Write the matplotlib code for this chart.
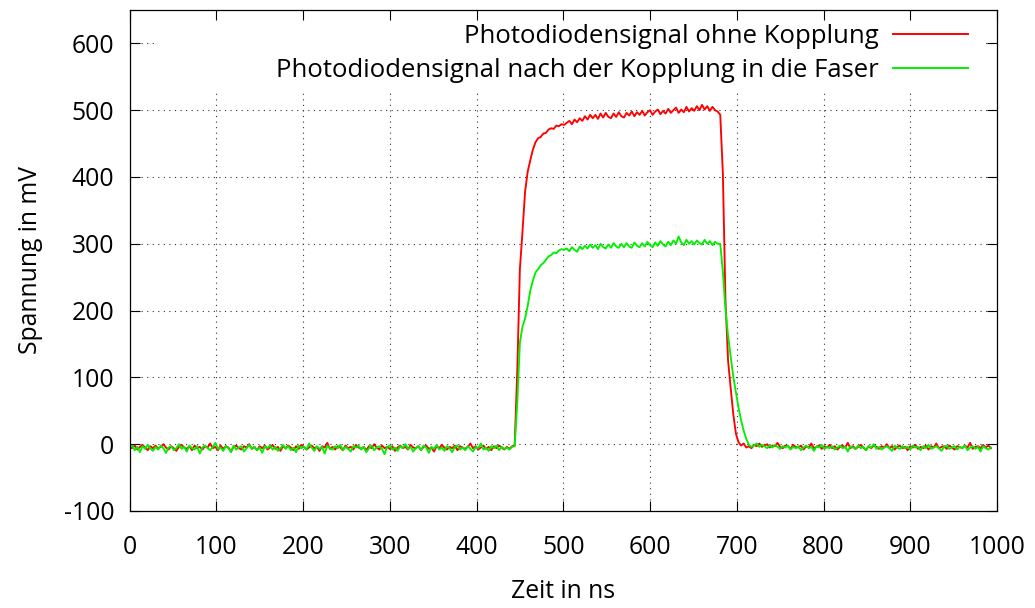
import numpy as np
import matplotlib
matplotlib.use("Agg")
import matplotlib.pyplot as plt
from matplotlib.patches import Rectangle

# ---------------- data (mV), sampled every 3 ns starting at 0 ns ----------------
step_ns = 3

red_pre = [
    -3, -6, -2, -8, -4, -1, -5, -9, -3, -6,
    -2, -7, -4, 0, -5, -8, -3, -6, -10, -4,
    -1, -5, -7, -3, -9, -2, -6, -4, -8, -3,
    -5, 1, -6, -4, -9, -2, -7, -3, -5, -11,
    -4, -2, -6, -8, -3, -5, 0, -7, -4, -9,
    -3, -6, -2, -8, -5, -1, -7, -4, -10, -3,
    -6, -2, -5, -9, -3, -7, -1, -4, -8, -5,
    -2, -6, -4, -10, -3, -5, 2, -7, -4, -8,
    -3, -5, -9, -2, -6, -4, -8, -1, -5, -7,
    -4, -9, -3, -6, 0, -5, -8, -2, -6, -4,
    -7, -3, -10, -5, -2, -6, -4, -8, -1, -5,
    -6, -3, -9, -4, -2, -7, -5, -11, -3, -6,
    -1, -5, -8, -4, -6, -2, -9, -3, -5, -7,
    -4, 1, -6, -3, -8, -5, -2, -7, -4, -9,
    -3, -6, -2, -5, -8, -4, -7, -3,
]
red_rise = [-2, 110, 262, 318, 378, 408, 425, 441, 452, 458,
            460, 465, 466, 471, 473, 472, 477, 476, 479, 478]
red_plateau = [
    481, 484, 479, 486, 482, 488, 484, 491, 486, 493,
    488, 493, 487, 495, 489, 496, 490, 488, 495, 490,
    497, 491, 489, 496, 492, 498, 491, 497, 493, 499,
    492, 497, 500, 493, 498, 501, 494, 499, 495, 502,
    496, 500, 504, 496, 501, 497, 505, 498, 503, 499,
    506, 500, 508, 501, 506, 499, 505, 500, 498,
]
red_fall = [493, 405, 215, 125, 84, 45, 16, 3, -2, 1, -5, -3, -6]
red_post = [
    -1, -3, 1, -4, -2, 0, -5, -2, -3, 2,
    -4, -6, -2, -3, -7, -1, -4, -5, -2, -8,
    -3, -5, 1, -6, -4, -2, -7, -3, -5, -1,
    -6, -3, -8, -4, -2, -5, 2, -6, -3, -7,
    -4, -1, -5, -9, -3, -6, -2, -4, -7, -3,
    -5, 0, -6, -3, -8, -4, -2, -6, -4, -9,
    -3, -5, -1, -7, -4, -6, -2, -8, -3, -5,
    1, -6, -4, -3, -7, -2, -5, -8, -3, -4,
    -6, -2, -5, 2, -7, -4, -3, -6, -1, -5,
    -2, -6,
]

green_pre = [
    -5, -2, -9, -4, -12, -3, -7, -1, -6, -10,
    -4, -8, -2, -6, -13, -5, -3, -9, -6, 0,
    -7, -4, -11, -2, -6, -8, -3, -14, -5, -2,
    -6, -9, -4, 2, -7, -5, -10, -3, -6, -12,
    -2, -8, -5, -3, -11, -6, -1, -7, -4, -9,
    -5, -13, -3, -6, -2, -8, -4, -10, -6, -1,
    -7, -3, -9, -5, -12, -2, -6, -4, -8, 1,
    -5, -10, -3, -7, -4, -14, -2, -6, -8, -3,
    -6, -1, -9, -4, -7, -11, -3, -5, -2, -8,
    -4, -12, -6, -2, -9, -5, -3, -7, -15, -4,
    -2, -8, -5, -10, -3, -6, 0, -7, -4, -11,
    -6, -3, -9, -2, -5, -13, -4, -7, -1, -8,
    -5, -10, -3, -6, -12, -4, -2, -8, -5, -9,
    -3, -7, -11, -4, -6, 1, -8, -5, -10, -3,
    -6, -2, -9, -4, -7, -5, -8, -4,
]
green_rise = [-3, 62, 152, 176, 188, 207, 230, 245, 257, 262,
              268, 271, 276, 281, 283, 287, 286, 290, 292, 291]
green_plateau = [
    293, 289, 295, 291, 288, 296, 292, 297, 293, 299,
    294, 298, 292, 300, 295, 293, 299, 294, 301, 296,
    294, 300, 295, 301, 296, 294, 302, 297, 295, 301,
    296, 303, 298, 295, 302, 297, 304, 299, 296, 303,
    298, 305, 300, 311, 302, 298, 306, 300, 304, 299,
    305, 301, 299, 306, 300, 304, 298, 303, 300,
]
green_fall = [300, 258, 202, 162, 131, 101, 78, 55, 36, 20, 8, -1, -4]
green_post = [
    -2, 1, -4, -1, -3, -6, -2, -5, -1, -4,
    -7, -3, -5, -2, -8, -4, -6, -3, -9, -5,
    -2, -6, -4, -10, -3, -5, -1, -7, -4, -6,
    -3, -8, -5, -2, -6, -4, -11, -3, -5, -7,
    -2, -6, -4, -9, -3, -5, 0, -7, -4, -8,
    -5, -3, -6, -10, -2, -5, -7, -3, -6, -4,
    -8, -2, -5, -4, -9, -3, -6, -1, -7, -5,
    -3, -6, -10, -4, -2, -7, -5, -3, -8, -4,
    -6, -2, -9, -5, -3, -7, -4, -11, -3, -6,
    -8, -5,
]

label_red = "Photodiodensignal ohne Kopplung"
label_green = "Photodiodensignal nach der Kopplung in die Faser"
xlabel = "Zeit in ns"
ylabel = "Spannung in mV"
xticks = [0, 100, 200, 300, 400, 500, 600, 700, 800, 900, 1000]
yticks = [-100, 0, 100, 200, 300, 400, 500, 600]

red = np.array(red_pre + red_rise + red_plateau + red_fall + red_post, dtype=float)
green = np.array(green_pre + green_rise + green_plateau + green_fall + green_post, dtype=float)
t_red = np.arange(len(red)) * step_ns
t_green = np.arange(len(green)) * step_ns

# ---------------- figure ----------------
plt.rcParams['font.family'] = ['Open Sans', 'DejaVu Sans']
plt.rcParams['axes.unicode_minus'] = False
FS = 17.8
FS_KEY = 18.5

fig = plt.figure(figsize=(10.35, 6.08), dpi=100)
ax = fig.add_axes([129.5 / 1035, 1 - 511 / 608, (997 - 129.5) / 1035, (511 - 10) / 608])

ax.set_xlim(0, 1000)
ax.set_ylim(-100, 650)

# dotted grid (drawn manually so an opaque key box can hide it)
grid_kw = dict(color='#333333', linewidth=0.8, linestyle=(0, (1, 4)), zorder=0.5)
for xv in xticks[1:-1]:
    ax.axvline(xv, **grid_kw)
for yv in yticks[1:]:
    ax.axhline(yv, **grid_kw)

# opaque key area
ax.add_patch(Rectangle(((157 - 129.5) / 867.5, (511 - 90) / 501),
                       (983 - 157) / 867.5, 1.0, transform=ax.transAxes,
                       facecolor='white', edgecolor='none', zorder=0.8))

ax.plot(t_red, red, color='#ff0000', linewidth=1.35, label=label_red, zorder=2)
ax.plot(t_green, green, color='#00f000', linewidth=1.35, label=label_green, zorder=2.1)

ax.set_xticks(xticks)
ax.set_yticks(yticks)
ax.tick_params(direction='in', length=7, width=0.8, top=True, right=True,
               labelsize=FS, colors='black')
ax.tick_params(axis='x', pad=17)
ax.tick_params(axis='y', pad=11)
for s in ax.spines.values():
    s.set_linewidth(0.9)
    s.set_color('black')
    s.set_zorder(3)

ax.set_xlabel(xlabel, fontsize=FS, labelpad=14)
ax.set_ylabel(ylabel, fontsize=FS, labelpad=15)

leg = ax.legend(loc='upper right', bbox_to_anchor=((968 - 129.5) / 867.5, (511 - 24) / 501),
                frameon=False, markerfirst=False, fontsize=FS_KEY, handlelength=2.9,
                handletextpad=0.58, borderpad=0, borderaxespad=0, labelspacing=0.36)
for h in leg.get_lines():
    h.set_linewidth(1.4)

fig.savefig("out.png", dpi=100)
